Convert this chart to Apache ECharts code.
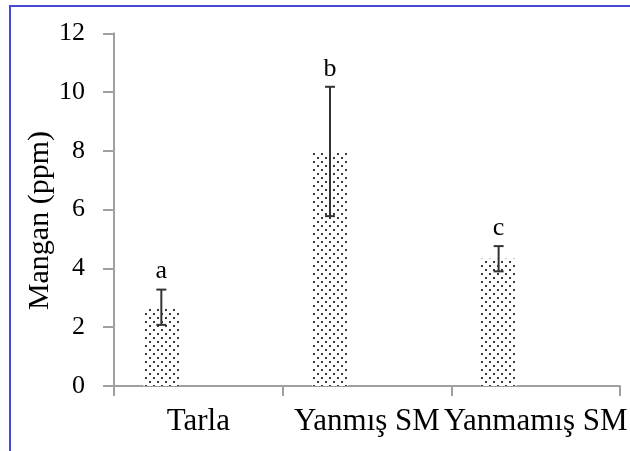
<!DOCTYPE html>
<html>
<head>
<meta charset="utf-8">
<script src="https://cdn.jsdelivr.net/npm/echarts@6/dist/echarts.min.js"></script>
<style>html,body{margin:0;padding:0;background:#fff;}#c{width:630px;height:451px;}</style>
</head>
<body>
<div id="c"></div>
<script>
// Data
var categories = ['Tarla', 'Yanmış SM', 'Yanmamış SM'];
var means = [2.68, 7.98, 4.33];
var errors = [0.6, 2.2, 0.43];
var letters = ['a', 'b', 'c'];
var yTicks = [0, 2, 4, 6, 8, 10, 12];

// Dotted fill pattern
var pat = document.createElement('canvas');
pat.width = 8; pat.height = 8;
var g = pat.getContext('2d');
g.fillStyle = '#ffffff'; g.fillRect(0, 0, 8, 8);
g.fillStyle = '#3a3a3a';
g.fillRect(1, 1, 2, 2);
g.fillRect(5, 5, 2, 2);

var BAR_W = 36, GAP = 38;
var OFFSET = -(BAR_W + GAP) / 2;
var FONT = 'Liberation Serif';

var errData = means.map(function (m, i) { return [i, m - errors[i], m + errors[i]]; });

var chart = echarts.init(document.getElementById('c'), null, { renderer: 'canvas' });
chart.setOption({
  animation: false,
  backgroundColor: '#ffffff',
  grid: { left: 114, right: 7, top: 33.3, bottom: 65 },
  xAxis: {
    type: 'category',
    data: categories,
    axisLine: { lineStyle: { color: '#a0a0a0', width: 2 } },
    axisTick: { show: true, length: 10, lineStyle: { color: '#a0a0a0', width: 2 } },
    axisLabel: { color: '#000', fontFamily: FONT, fontSize: 31, margin: 20, interval: 0 }
  },
  yAxis: {
    type: 'value',
    min: yTicks[0], max: yTicks[yTicks.length - 1], interval: 2,
    splitLine: { show: false },
    axisLine: { show: true, lineStyle: { color: '#a0a0a0', width: 2 } },
    axisTick: { show: true, length: 11, lineStyle: { color: '#a0a0a0', width: 2 } },
    axisLabel: { color: '#000', fontFamily: FONT, fontSize: 26, margin: 29 }
  },
  graphic: [
    {
      type: 'rect', silent: true, z: 100,
      shape: { x: 10, y: 6, width: 700, height: 600 },
      style: { fill: 'none', stroke: '#4848dc', lineWidth: 2 }
    },
    {
      type: 'text', left: 25, top: 131, rotation: Math.PI / 2, silent: true,
      style: { text: 'Mangan (ppm)', fill: '#000', font: '30px "Liberation Serif"' }
    }
  ],
  series: [
    {
      type: 'bar',
      data: means,
      barWidth: BAR_W,
      barGap: (GAP / BAR_W * 100) + '%',
      itemStyle: { color: { image: pat, repeat: 'repeat' } }
    },
    {
      type: 'bar',
      data: means.map(function () { return null; }),
      barWidth: BAR_W
    },
    {
      type: 'custom',
      data: errData,
      z: 10,
      renderItem: function (params, api) {
        var i = api.value(0);
        var top = api.coord([i, api.value(2)]);
        var bot = api.coord([i, api.value(1)]);
        var x = top[0] + OFFSET;
        var cap = 5;
        var ls = { stroke: '#333', lineWidth: 2 };
        return {
          type: 'group',
          children: [
            { type: 'line', shape: { x1: x, y1: top[1], x2: x, y2: bot[1] }, style: ls },
            { type: 'line', shape: { x1: x - cap, y1: top[1], x2: x + cap, y2: top[1] }, style: ls },
            { type: 'line', shape: { x1: x - cap, y1: bot[1], x2: x + cap, y2: bot[1] }, style: ls },
            { type: 'text', style: { text: letters[params.dataIndex], x: x, y: top[1] - 5,
              textAlign: 'center', textVerticalAlign: 'bottom', fill: '#000',
              font: '26px "Liberation Serif"' } }
          ]
        };
      }
    }
  ]
});
</script>
</body>
</html>
